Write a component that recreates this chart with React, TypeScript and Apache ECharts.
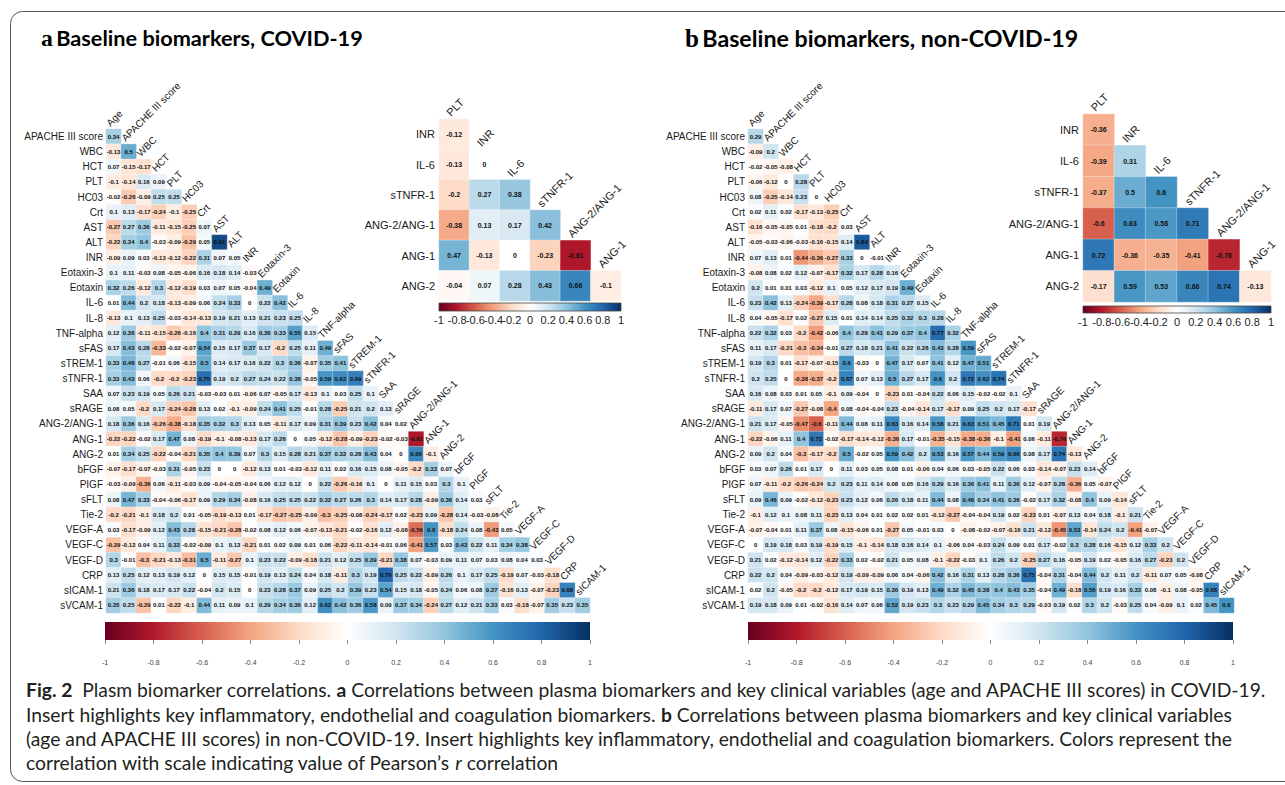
import React, { useEffect, useRef } from "react";
import * as echarts from "echarts";

const rowNames = ["APACHE III score", "WBC", "HCT", "PLT", "HC03", "Crt", "AST", "ALT", "INR", "Eotaxin-3", "Eotaxin", "IL-6", "IL-8", "TNF-alpha", "sFAS", "sTREM-1", "sTNFR-1", "SAA", "sRAGE", "ANG-2/ANG-1", "ANG-1", "ANG-2", "bFGF", "PIGF", "sFLT", "Tie-2", "VEGF-A", "VEGF-C", "VEGF-D", "CRP", "sICAM-1", "sVCAM-1"];
const colNames = ["Age", ...rowNames.slice(0, 31)];

const covidCorr = [
  [0.34],
  [-0.13, 0.5],
  [0.07, -0.15, -0.17],
  [-0.1, -0.14, 0.16, 0.09],
  [-0.02, -0.26, -0.09, 0.25, 0.25],
  [0.1, 0.13, -0.17, -0.24, -0.1, -0.25],
  [-0.27, 0.27, 0.36, -0.11, -0.15, -0.25, 0.07],
  [-0.22, 0.34, 0.4, -0.03, -0.09, -0.29, 0.05, 0.91],
  [-0.09, 0.09, 0.03, -0.13, -0.12, -0.22, 0.31, 0.07, 0.05],
  [0.1, 0.11, -0.03, 0.08, -0.05, -0.06, 0.16, 0.18, 0.14, -0.03],
  [0.32, 0.26, -0.12, 0.3, -0.12, -0.19, 0.03, 0.07, 0.05, -0.04, 0.49],
  [0.01, 0.44, 0.2, 0.18, -0.13, -0.09, 0.06, 0.24, 0.33, 0, 0.22, 0.42],
  [-0.13, 0.1, 0.13, 0.25, -0.03, -0.14, -0.13, 0.19, 0.21, 0.13, 0.21, 0.23, 0.25],
  [0.12, 0.36, -0.11, -0.15, -0.26, -0.16, 0.4, 0.31, 0.29, 0.16, 0.36, 0.33, 0.55, 0.15],
  [0.17, 0.43, 0.28, -0.33, -0.02, -0.07, 0.54, 0.15, 0.17, 0.37, 0.17, -0.2, 0.25, 0.11, 0.49],
  [0.33, 0.46, 0.27, -0.01, 0.06, -0.15, 0.5, 0.14, 0.17, 0.16, 0.22, 0.3, 0.36, -0.07, 0.35, 0.41],
  [0.33, 0.43, 0.06, -0.2, -0.2, -0.23, 0.75, 0.19, 0.2, 0.27, 0.24, 0.22, 0.38, -0.05, 0.59, 0.62, 0.69],
  [0.07, 0.23, 0.19, 0.05, 0.26, 0.21, -0.03, -0.03, 0.01, -0.06, 0.07, -0.05, 0.17, -0.13, 0.1, 0.03, 0.25, 0.1],
  [0.08, 0.05, -0.2, 0.17, -0.24, -0.28, 0.13, 0.02, -0.1, -0.09, 0.24, 0.41, 0.25, -0.01, 0.28, -0.25, 0.21, 0.2, 0.13],
  [0.18, 0.36, 0.16, -0.26, -0.38, -0.18, 0.35, 0.32, 0.3, 0.13, 0.05, -0.11, 0.17, 0.09, 0.31, 0.39, 0.23, 0.42, 0.04, 0.02],
  [-0.22, -0.22, -0.02, 0.17, 0.47, 0.08, -0.19, -0.1, -0.08, -0.13, 0.17, 0.26, 0, 0.05, -0.12, -0.28, -0.09, -0.23, -0.02, -0.03, -0.81],
  [0.01, 0.34, 0.25, -0.22, -0.04, -0.21, 0.35, 0.4, 0.39, 0.07, 0.3, 0.15, 0.28, 0.21, 0.37, 0.32, 0.28, 0.43, 0.04, 0, 0.66, -0.1],
  [-0.07, -0.17, -0.07, -0.03, 0.31, -0.05, 0.23, 0, 0, -0.12, 0.13, 0.01, -0.03, -0.12, 0.11, 0.02, 0.16, 0.15, 0.08, -0.05, -0.2, 0.33, 0.07],
  [-0.03, -0.09, -0.36, 0.06, -0.11, -0.03, 0.09, -0.04, -0.05, -0.04, 0.06, 0.12, 0.12, 0, 0.22, -0.26, -0.16, 0.1, 0, 0.11, 0.15, 0.03, 0.3, 0.1],
  [0.08, 0.47, 0.33, -0.04, -0.06, -0.17, 0.09, 0.29, 0.34, -0.08, 0.16, 0.25, 0.25, 0.22, 0.32, 0.27, 0.26, 0.3, 0.14, 0.17, 0.28, -0.09, 0.36, 0.14, 0.03],
  [-0.2, -0.21, -0.1, 0.18, 0.2, 0.01, -0.05, -0.19, -0.13, 0.01, -0.17, -0.27, -0.25, -0.09, -0.3, -0.25, -0.08, -0.24, -0.17, 0.02, -0.23, 0.09, -0.28, 0.14, -0.03, -0.08],
  [0.03, -0.17, -0.09, 0.12, 0.43, 0.28, -0.15, -0.21, -0.28, -0.02, 0.08, 0.12, 0.06, -0.07, -0.13, -0.21, -0.02, -0.16, 0.12, -0.08, -0.56, 0.6, -0.18, 0.24, 0.08, -0.43, 0.05],
  [-0.29, -0.12, 0.04, 0.11, 0.33, -0.02, -0.09, 0.1, 0.13, -0.21, 0.01, 0.02, 0.09, 0.01, 0.06, -0.22, -0.11, -0.14, -0.01, 0.06, -0.41, 0.57, 0.03, 0.43, 0.22, 0.11, 0.34, 0.38],
  [0.3, -0.01, -0.3, -0.21, -0.13, -0.31, 0.5, -0.11, -0.27, 0.1, 0.23, 0.22, -0.09, -0.18, 0.21, 0.12, 0.25, 0.39, -0.21, 0.38, 0.07, -0.03, 0.09, 0.11, 0.07, 0.03, 0.08, 0.04, 0.03],
  [0.13, 0.25, 0.12, 0.13, 0.19, 0.12, 0, 0.15, 0.15, -0.01, 0.19, 0.13, 0.24, 0.04, 0.18, -0.11, 0.3, 0.19, 0.79, 0.25, 0.22, -0.09, 0.26, 0.1, 0.17, 0.25, -0.19, 0.07, -0.03, -0.18],
  [0.21, 0.36, 0.18, 0.17, 0.17, 0.22, -0.04, 0.2, 0.15, 0, 0.23, 0.28, 0.37, 0.09, 0.25, 0.2, 0.39, 0.23, 0.54, 0.15, 0.18, -0.05, 0.24, 0.06, 0.08, 0.37, -0.16, 0.13, -0.07, -0.23, 0.68],
  [0.35, 0.25, -0.29, 0.01, -0.22, -0.1, 0.44, 0.11, 0.09, 0.1, 0.29, 0.34, 0.36, 0.12, 0.62, 0.42, 0.36, 0.58, 0.09, 0.37, 0.34, -0.24, 0.27, 0.12, 0.21, 0.33, 0.03, -0.18, -0.07, 0.35, 0.23, 0.35],
];

const nonCovidCorr = [
  [0.29],
  [-0.09, 0.2],
  [-0.02, -0.05, -0.08],
  [-0.06, -0.12, 0, 0.28],
  [0.08, -0.25, -0.14, 0.23, 0],
  [0.02, 0.11, 0.02, -0.17, -0.13, -0.25],
  [-0.16, -0.05, -0.05, 0.01, -0.18, -0.2, 0.03],
  [-0.05, -0.03, -0.06, -0.03, -0.16, -0.15, 0.14, 0.84],
  [0.07, 0.13, 0.01, -0.44, -0.36, -0.27, 0.33, 0, -0.01],
  [-0.08, 0.08, 0.02, 0.12, -0.07, -0.17, 0.32, 0.17, 0.28, 0.16],
  [0.2, 0.01, 0.01, 0.03, -0.12, 0.1, 0.05, 0.12, 0.17, 0.19, 0.49],
  [0.23, 0.42, 0.13, -0.24, -0.39, -0.17, 0.28, 0.08, 0.18, 0.31, 0.27, 0.15],
  [0.04, -0.05, -0.17, 0.02, -0.27, 0.15, 0.01, 0.14, 0.14, 0.25, 0.32, 0.3, 0.28],
  [0.22, 0.32, 0.03, -0.2, -0.42, -0.06, 0.4, 0.28, 0.41, 0.29, 0.37, 0.4, 0.77, 0.32],
  [0.11, 0.17, -0.21, -0.3, -0.34, -0.01, 0.27, 0.18, 0.21, 0.41, 0.22, 0.28, 0.43, 0.28, 0.59],
  [0.19, 0.3, 0.01, -0.17, -0.07, -0.15, 0.6, -0.03, 0, 0.47, 0.17, 0.07, 0.41, 0.12, 0.47, 0.51],
  [0.2, 0.25, 0, -0.38, -0.37, -0.2, 0.67, 0.07, 0.13, 0.5, 0.27, 0.17, 0.6, 0.2, 0.72, 0.62, 0.74],
  [0.16, 0.08, 0.03, 0.01, 0.05, -0.1, 0.09, -0.04, 0, -0.23, 0.01, -0.04, 0.22, 0.06, 0.15, -0.02, -0.02, 0.1],
  [-0.11, 0.17, 0.07, -0.27, -0.08, -0.4, 0.08, -0.04, -0.04, 0.23, -0.04, -0.14, 0.17, -0.17, 0.09, 0.25, 0.2, 0.17, -0.17],
  [0.21, 0.17, -0.05, -0.47, -0.6, -0.11, 0.44, 0.08, 0.11, 0.63, 0.16, 0.14, 0.58, 0.21, 0.63, 0.51, 0.45, 0.71, 0.01, 0.19],
  [-0.22, -0.06, 0.11, 0.4, 0.72, -0.02, -0.17, -0.14, -0.12, -0.36, 0.17, -0.01, -0.35, -0.15, -0.38, -0.36, -0.1, -0.41, 0.06, -0.11, -0.76],
  [0.09, 0.2, 0.04, -0.3, -0.17, -0.2, 0.5, -0.02, 0.05, 0.59, 0.42, 0.2, 0.53, 0.16, 0.57, 0.44, 0.59, 0.66, 0.08, 0.17, 0.74, -0.13],
  [0.03, 0.07, 0.26, 0.01, 0.17, 0, 0.11, 0.03, 0.05, 0.08, 0.01, -0.06, 0.04, 0.06, 0.03, -0.05, 0.22, 0.06, 0.03, -0.14, -0.07, 0.23, 0.14],
  [0.07, -0.11, -0.2, -0.26, -0.24, 0.2, 0.23, 0.11, 0.14, 0.08, 0.05, 0.16, 0.29, 0.16, 0.36, 0.41, 0.11, 0.36, 0.12, -0.07, 0.28, -0.36, 0.05, -0.07],
  [0.09, 0.46, 0.09, -0.02, -0.12, -0.23, 0.23, 0.12, 0.06, 0.26, 0.18, 0.11, 0.44, 0.08, 0.46, 0.34, 0.41, 0.36, -0.02, 0.17, 0.32, -0.08, 0.4, 0.09, -0.14],
  [-0.1, 0.12, 0.1, 0.08, 0.11, -0.23, 0.13, 0.04, 0.01, 0.02, 0.02, 0.01, -0.12, -0.27, -0.04, -0.04, 0.19, 0.02, -0.23, 0.01, -0.07, 0.13, 0.04, 0.18, -0.1, 0.21],
  [-0.07, -0.04, 0.01, 0.11, 0.37, 0.08, -0.15, -0.06, 0.01, -0.27, 0.05, -0.01, 0.03, 0, -0.08, -0.02, -0.07, -0.16, 0.21, -0.12, -0.45, 0.53, -0.14, 0.24, 0.2, -0.41, -0.07],
  [0, 0.19, 0.18, 0.03, 0.19, -0.19, 0.15, -0.1, -0.14, 0.18, 0.16, 0.14, 0.1, -0.06, 0.04, -0.03, 0.24, 0.09, 0.01, 0.17, -0.02, 0.3, 0.28, 0.16, -0.15, 0.12, 0.33, 0.2],
  [0.21, 0.02, -0.12, -0.14, 0.12, -0.22, 0.33, 0.02, -0.02, 0.21, 0.05, 0.08, -0.1, -0.22, -0.03, 0.1, 0.26, 0.2, -0.25, 0.27, 0.16, -0.05, 0.19, 0.02, -0.05, 0.16, 0.27, -0.23, 0.2],
  [0.22, 0.2, 0.04, -0.09, -0.03, -0.12, 0.19, -0.09, -0.09, 0.06, 0.04, -0.06, 0.42, 0.16, 0.31, 0.13, 0.28, 0.36, 0.75, -0.04, 0.31, -0.04, 0.44, 0.2, 0.11, 0.2, -0.11, 0.07, 0.05, -0.08],
  [0.02, 0.2, -0.05, -0.2, -0.2, -0.12, 0.17, 0.19, 0.15, 0.36, 0.19, 0.13, 0.49, 0.32, 0.45, 0.38, 0.4, 0.43, 0.35, -0.04, 0.49, -0.18, 0.56, 0.19, 0.16, 0.33, 0.08, -0.1, 0.08, -0.05, 0.68],
  [0.19, 0.18, 0.09, 0.01, -0.02, -0.16, 0.14, 0.07, 0.06, 0.52, 0.19, 0.23, 0.3, 0.23, 0.29, 0.45, 0.34, 0.3, 0.29, -0.03, 0.19, 0.02, 0.3, 0.2, -0.03, 0.25, 0.04, -0.09, 0.1, 0.02, 0.45, 0.6],
];

const insetRows = ["INR", "IL-6", "sTNFR-1", "ANG-2/ANG-1", "ANG-1", "ANG-2"];
const insetCols = ["PLT", "INR", "IL-6", "sTNFR-1", "ANG-2/ANG-1", "ANG-1"];
const colorbarRange = [-1, 1];
const palette = ["#67001F", "#B2182B", "#D6604D", "#F4A582", "#FDDBC7", "#FFFFFF", "#D1E5F0", "#92C5DE", "#4393C3", "#2166AC", "#053061"];

const SANS = "'Liberation Sans', Arial, sans-serif";
const CAP = "Lato, 'Open Sans', sans-serif";

function lowerData(mat: number[][]) {
  const out: any[] = [];
  mat.forEach((row, i) => row.forEach((v, j) => out.push([j, i, v])));
  return out;
}
function insetData(mat: number[][]) {
  const out: any[] = [];
  insetRows.forEach((r, i) => {
    insetCols.forEach((c, j) => {
      if (j <= i) {
        const ri = rowNames.indexOf(r);
        const ci = colNames.indexOf(c);
        out.push([j, i, mat[ri][ci]]);
      }
    });
  });
  return out;
}

function diagLabels(gi: number, names: string[], fontSize: number) {
  return {
    type: "custom",
    xAxisIndex: gi,
    yAxisIndex: gi,
    silent: true,
    data: names.map((_, j) => [j, j]),
    renderItem: (params: any, api: any) => {
      const c = api.coord([api.value(0), api.value(1)]);
      const s = api.size([1, 1]);
      return {
        type: "text",
        x: c[0] - 2,
        y: c[1] - s[1] / 2 - 1,
        rotation: Math.PI / 4,
        style: {
          text: names[params.dataIndex],
          fontSize,
          fontFamily: SANS,
          fill: "#1a1a1a",
          align: "left",
          verticalAlign: "bottom",
        },
      };
    },
  };
}

function heat(gi: number, data: any[], fontSize: number) {
  return {
    type: "heatmap",
    xAxisIndex: gi,
    yAxisIndex: gi,
    data,
    itemStyle: { borderColor: "rgba(255,255,255,0.6)", borderWidth: 0.5 },
    label: {
      show: true,
      formatter: (p: any) => String(p.value[2]),
      fontSize,
      fontWeight: "bold",
      fontFamily: SANS,
      color: "#111",
    },
    emphasis: { disabled: true },
  };
}

function colorbar(gi: number, border: boolean) {
  return {
    type: "custom",
    xAxisIndex: gi,
    yAxisIndex: gi,
    silent: true,
    encode: { x: [0, 1] },
    data: [colorbarRange],
    renderItem: (params: any, api: any) => {
      const p0 = api.coord([api.value(0), 0]);
      const p1 = api.coord([api.value(1), 1]);
      return {
        type: "rect",
        shape: { x: p0[0], y: p1[1], width: p1[0] - p0[0], height: p0[1] - p1[1] },
        style: {
          fill: new echarts.graphic.LinearGradient(0, 0, 1, 0,
            palette.map((c, i) => ({ offset: i / (palette.length - 1), color: c }))),
          stroke: border ? "#444" : null,
          lineWidth: border ? 0.8 : 0,
        },
      };
    },
  };
}

const tickFmt = (v: number) => String(Math.round(v * 10) / 10);

export default function App() {
  const ref = useRef<HTMLDivElement>(null);
  useEffect(() => {
    if (!ref.current) return;
    const chart = echarts.init(ref.current, null, { renderer: "svg" });
    const heatGrids = [
      { left: 106, top: 129, width: 484, height: 484 },
      { left: 748, top: 129, width: 486, height: 484 },
      { left: 439, top: 119, width: 182, height: 182 },
      { left: 1083, top: 114, width: 188, height: 188 },
    ];
    const barGrids = [
      { left: 105, top: 622, width: 485, height: 18 },
      { left: 748, top: 622, width: 485, height: 18 },
      { left: 439, top: 303, width: 182, height: 8 },
      { left: 1083, top: 306, width: 188, height: 7 },
    ];
    const grids = [...heatGrids, ...barGrids];
    const xAxis: any[] = [];
    const yAxis: any[] = [];
    const mainRows = [rowNames, rowNames, insetRows, insetRows];
    const mainCols = [colNames, colNames, insetCols, insetCols];
    for (let g = 0; g < 4; g++) {
      xAxis.push({ type: "category", gridIndex: g, data: mainCols[g], show: false });
      yAxis.push({
        type: "category",
        gridIndex: g,
        data: mainRows[g],
        inverse: true,
        axisLine: { show: false },
        axisTick: { show: false },
        splitLine: { show: false },
        axisLabel: {
          fontSize: g < 2 ? 10 : 11,
          fontFamily: SANS,
          color: "#1a1a1a",
          margin: g < 2 ? 3 : 4,
        },
      });
    }
    for (let g = 4; g < 8; g++) {
      const big = g < 6;
      xAxis.push({
        type: "value",
        gridIndex: g,
        min: -1,
        max: 1,
        interval: 0.2,
        axisLine: { show: false },
        axisTick: big ? { show: true, length: 4, lineStyle: { color: "#888", width: 1 } } : { show: false },
        splitLine: { show: false },
        axisLabel: {
          showMinLabel: true,
          showMaxLabel: true,
          fontSize: big ? 7 : 11,
          fontFamily: SANS,
          color: big ? "#444" : "#222",
          margin: big ? 19 : 3,
          formatter: tickFmt,
        },
      });
      yAxis.push({ type: "value", gridIndex: g, min: 0, max: 1, show: false });
    }

    const CS = 19.3;
    const capStyle = { fontFamily: CAP, fontSize: CS, fill: "#231f20" };
    const rich = {
      n: { fontFamily: CAP, fontSize: CS, color: "#231f20" },
      b: { fontFamily: CAP, fontSize: CS, fontWeight: "bold", color: "#231f20" },
      i: { fontFamily: CAP, fontSize: CS, fontStyle: "italic", color: "#231f20" },
    };
    const captionLines = [
      "{b|Fig. 2}{n|  Plasm biomarker correlations. }{b|a}{n| Correlations between plasma biomarkers and key clinical variables (age and APACHE III scores) in COVID-19.}",
      "{n|Insert highlights key inflammatory, endothelial and coagulation biomarkers. }{b|b}{n| Correlations between plasma biomarkers and key clinical variables}",
      "{n|(age and APACHE III scores) in non-COVID-19. Insert highlights key inflammatory, endothelial and coagulation biomarkers. Colors represent the}",
      "{n|correlation with scale indicating value of Pearson\u2019s }{i|r}{n| correlation}",
    ];
    const captionY = [689, 714, 738, 762];

    const titleRich = (fs: number) => ({
      a: { fontFamily: "'Liberation Serif', serif", fontWeight: "bold", fontSize: fs + 2, color: "#111" },
      t: { fontFamily: CAP, fontWeight: "bold", fontSize: fs, color: "#111" },
    });

    chart.setOption({
      animation: false,
      backgroundColor: "#fff",
      grid: grids,
      xAxis,
      yAxis,
      visualMap: [
        {
          type: "continuous",
          min: -1,
          max: 1,
          show: false,
          seriesIndex: [0, 2, 4, 6],
          dimension: 2,
          inRange: { color: palette },
        },
      ],
      series: [
        heat(0, lowerData(covidCorr), 6),
        diagLabels(0, colNames, 10),
        heat(1, lowerData(nonCovidCorr), 6),
        diagLabels(1, colNames, 10),
        heat(2, insetData(covidCorr), 7),
        diagLabels(2, insetCols, 11),
        heat(3, insetData(nonCovidCorr), 7),
        diagLabels(3, insetCols, 11),
        colorbar(4, false),
        colorbar(5, false),
        colorbar(6, true),
        colorbar(7, true),
      ],
      graphic: [
        {
          type: "rect",
          shape: { x: 10.5, y: 11.5, width: 1300, height: 770, r: 12 },
          style: { fill: "none", stroke: "#555", lineWidth: 1 },
          silent: true,
        },
        {
          type: "text",
          x: 41,
          y: 38,
          style: { text: "{a|a} {t|Baseline biomarkers, COVID-19}", rich: titleRich(21.7), verticalAlign: "middle", align: "left" },
        },
        {
          type: "text",
          x: 685,
          y: 38,
          style: { text: "{a|b} {t|Baseline biomarkers, non-COVID-19}", rich: titleRich(23.2), verticalAlign: "middle", align: "left" },
        },
        ...captionLines.map((t, k) => ({
          type: "text",
          x: 26,
          y: captionY[k],
          style: { ...capStyle, text: t, rich, verticalAlign: "middle", align: "left" },
        })),
      ],
    });
    return () => chart.dispose();
  }, []);
  return (
    <div
      ref={ref}
      style={{ position: "fixed", left: 0, top: 0, width: 1285, height: 785, background: "#fff" }}
    />
  );
}
